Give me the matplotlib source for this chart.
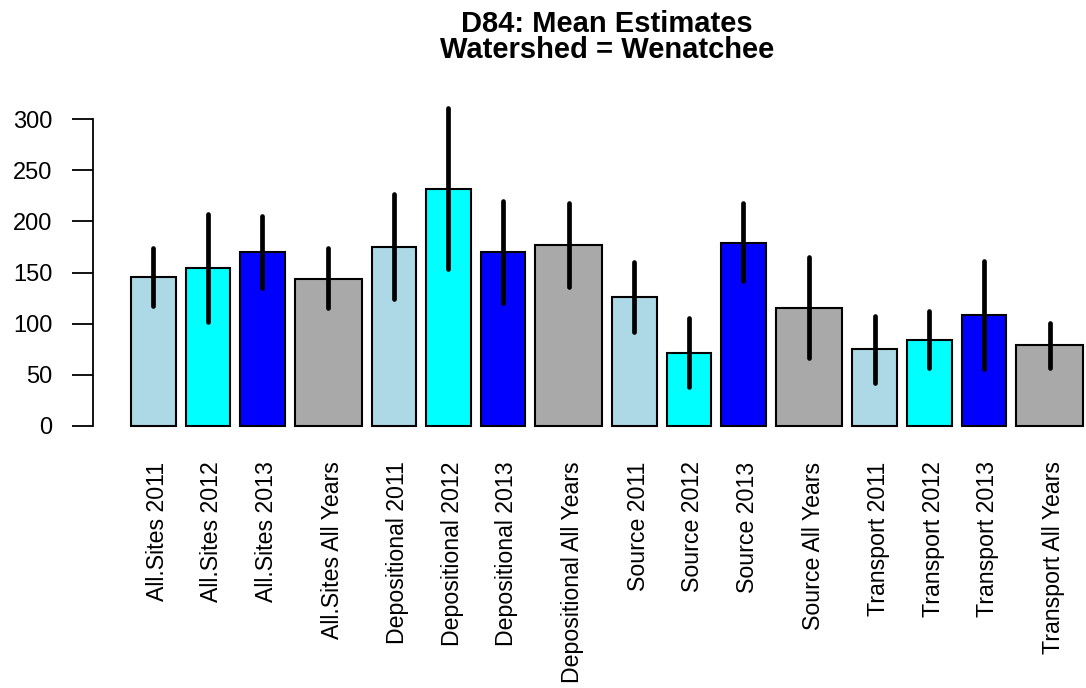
import matplotlib
matplotlib.use("Agg")
import matplotlib.pyplot as plt
import matplotlib.transforms as mtransforms
import numpy as np

plt.rcParams['font.family'] = ['Liberation Sans', 'DejaVu Sans']

labels = ["All.Sites 2011", "All.Sites 2012", "All.Sites 2013", "All.Sites All Years",
          "Depositional 2011", "Depositional 2012", "Depositional 2013", "Depositional All Years",
          "Source 2011", "Source 2012", "Source 2013", "Source All Years",
          "Transport 2011", "Transport 2012", "Transport 2013", "Transport All Years"]
means = [145.3, 154.1, 169.8, 143.6, 175.3, 231.4, 170.0, 177.0,
         126.0, 71.5, 178.9, 115.5, 75.0, 84.2, 108.4, 78.7]
upper = [174, 207, 205, 174, 226.5, 311, 220, 218,
         160, 105.5, 218, 165, 107, 112.5, 161.5, 100.5]
lower = [117, 101.5, 135, 115.5, 124, 153.5, 120.5, 136,
         92, 38, 142, 66.5, 41.5, 57, 55.5, 57]
group_colors = ["#ADD8E6", "#00FFFF", "#0000FF", "#A9A9A9"]
group_widths = [1.0, 1.0, 1.0, 1.5]
yticks = [0, 50, 100, 150, 200, 250, 300]
title_lines = ["D84: Mean Estimates", "Watershed = Wenatchee"]

W, H = 1086, 688
dpi = 100
fig = plt.figure(figsize=(W / dpi, H / dpi), dpi=dpi)

# layout in pixels
ylim = (-12.5, 325.5)
px_bottom, px_top = 438.5, 93.3
px_left, px_right = 93.0, 1121.0
ax = fig.add_axes([px_left / W, (H - px_bottom) / H,
                   (px_right - px_left) / W, (px_bottom - px_top) / H])

n = len(means)
widths = np.array([group_widths[i % 4] for i in range(n)])
colors = [group_colors[i % 4] for i in range(n)]
space = 0.2 * widths.mean()
right_edges = np.cumsum(space + widths)
left_edges = right_edges - widths
centers = left_edges + widths / 2

ax.bar(left_edges, means, width=widths, align='edge', color=colors,
       edgecolor='black', linewidth=1.5, zorder=2)
for c, lo, hi in zip(centers, lower, upper):
    ax.plot([c, c], [lo, hi], color='black', linewidth=3.4,
            solid_capstyle='round', zorder=3)

span = right_edges[-1] - left_edges[0]
ax.set_xlim(left_edges[0] - 0.04 * span, right_edges[-1] + 0.04 * span)
ax.set_ylim(*ylim)

for s in ['top', 'right', 'bottom']:
    ax.spines[s].set_visible(False)
ax.spines['left'].set_bounds(0, 300)
ax.spines['left'].set_linewidth(1.3)
ax.set_yticks(yticks)
ax.set_yticklabels([str(v) for v in yticks], fontsize=17)
ax.tick_params(axis='y', length=15, width=1.3, pad=14)

ax.set_xticks(centers)
ax.set_xticklabels(labels, rotation=90, fontsize=16.7, va='top', ha='center')
ax.tick_params(axis='x', length=0, pad=16.5)
shift = mtransforms.ScaledTranslation(4 / dpi, 0, fig.dpi_scale_trans)
for lab in ax.get_xticklabels():
    lab.set_transform(lab.get_transform() + shift)

fig.text(607 / W, 1 - 31.5 / H, title_lines[0], ha='center', va='baseline',
         fontsize=21, fontweight='bold')
fig.text(607 / W, 1 - 58.5 / H, title_lines[1], ha='center', va='baseline',
         fontsize=21, fontweight='bold')

fig.savefig("out.png", dpi=dpi)
